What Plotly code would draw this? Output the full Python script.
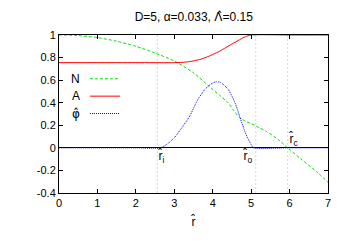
import plotly.graph_objects as go

# ---- data ----
r_N = [0, 0.5, 1.0, 1.5, 2.0, 2.5, 3.0, 3.5, 3.9, 4.2, 4.4, 4.55, 4.7, 4.85, 5.0, 5.2, 5.4, 5.7, 5.95, 6.3, 6.7, 7.0]
N = [1.0, 0.995, 0.977, 0.945, 0.90, 0.84, 0.77, 0.665, 0.547, 0.46, 0.40, 0.33, 0.268, 0.237, 0.215, 0.18, 0.145, 0.075, 0.0, -0.10, -0.21, -0.305]

r_A = [0, 1.0, 2.0, 3.0, 3.3, 3.5, 3.7, 3.9, 4.1, 4.3, 4.5, 4.7, 4.85, 5.0, 6.0, 7.0]
A = [0.755, 0.755, 0.755, 0.755, 0.76, 0.77, 0.787, 0.812, 0.843, 0.88, 0.92, 0.958, 0.985, 1.0, 1.0, 1.0]

r_phi = [0, 1.0, 2.0, 2.63, 2.8, 3.0, 3.2, 3.4, 3.6, 3.8, 4.0, 4.1, 4.2, 4.4, 4.58, 4.71, 4.8, 4.89, 5.0, 5.06, 6.0, 7.0]
phi = [0, 0, 0, 0, 0.03, 0.09, 0.18, 0.28, 0.42, 0.52, 0.575, 0.586, 0.58, 0.52, 0.40, 0.27, 0.18, 0.10, 0.03, 0.0, 0, 0]

vlines = [2.56, 5.12, 5.95]
x_ticks = [0, 1, 2, 3, 4, 5, 6, 7]
y_ticks = [-0.4, -0.2, 0, 0.2, 0.4, 0.6, 0.8, 1]
y_ticklabels = ["-0.4", "-0.2", "0", "0.2", "0.4", "0.6", "0.8", "1"]

HAT_FONT = "DejaVu Sans"
names = ["N", "A", "<span style='font-family:%s'>\u03c6\u0302</span>" % HAT_FONT]
colors = ["rgb(0,225,0)", "rgb(255,0,0)", "rgb(0,0,255)"]
dashes = ["3px,2px", "solid", "1px,1px"]

FONT = "Liberation Sans, Arial, sans-serif"

fig = go.Figure()
series = [(r_N, N), (r_A, A), (r_phi, phi)]
for (xs, ys), nm, c, d in zip(series, ["N", "A", "phi"], colors, dashes):
    fig.add_trace(go.Scatter(x=xs, y=ys, mode="lines", name=nm,
                             line=dict(color=c, width=1, dash=d, shape="spline", smoothing=0.6),
                             showlegend=False))

shapes = []
for v in vlines:
    shapes.append(dict(type="line", xref="x", yref="paper", x0=v, x1=v, y0=0, y1=1,
                       line=dict(color="rgb(215,215,215)", width=1, dash="2px,2px"), layer="below"))

# manual gnuplot-style key
key_y = [0.723, 0.613, 0.503]
annotations = []
for nm, c, d, ky in zip(names, colors, dashes, key_y):
    shapes.append(dict(type="line", xref="paper", yref="paper", x0=0.115, x1=0.227, y0=ky, y1=ky,
                       line=dict(color=c, width=1, dash=d)))
    annotations.append(dict(xref="paper", yref="paper", x=0.085, y=ky, text=nm, showarrow=False,
                            xanchor="right", yanchor="middle", font=dict(size=12, color="black", family=FONT)))

# radius labels
annotations += [
    dict(x=2.67, y=-0.08, text="r\u0302<sub>i</sub>", showarrow=False, font=dict(size=12, family=FONT, color="black")),
    dict(x=4.93, y=-0.08, text="r\u0302<sub>o</sub>", showarrow=False, font=dict(size=12, family=FONT, color="black")),
    dict(x=6.1, y=0.075, text="r\u0302<sub>c</sub>", showarrow=False, font=dict(size=12, family=FONT, color="black")),
]

title_text = "D=5, \u03b1=0.033, <span style='font-family:%s'>\u039b\u0302</span>=0.15" % HAT_FONT

fig.update_layout(
    width=346, height=242,
    margin=dict(l=59, r=18, t=35, b=49),
    paper_bgcolor="white", plot_bgcolor="white",
    font=dict(family=FONT, size=11, color="black"),
    title=dict(text=title_text, x=0.56, xanchor="center", y=0.93, yanchor="middle",
               font=dict(size=12, family=FONT)),
    shapes=shapes, annotations=annotations,
    xaxis=dict(range=[0, 7], tickvals=x_ticks, ticks="inside", ticklen=4, tickcolor="black",
               showline=True, linecolor="black", linewidth=1, mirror="ticks", showgrid=False, zeroline=False,
               title=dict(text="r\u0302", font=dict(size=12), standoff=9)),
    yaxis=dict(range=[-0.4, 1], tickvals=y_ticks, ticktext=y_ticklabels, ticks="inside", ticklen=4, tickcolor="black",
               showline=True, linecolor="black", linewidth=1, mirror="ticks", showgrid=False,
               zeroline=True, zerolinecolor="black", zerolinewidth=1),
)

fig.write_html("out.html", config={"displayModeBar": False},
               post_script="document.body.style.margin='0px';")
